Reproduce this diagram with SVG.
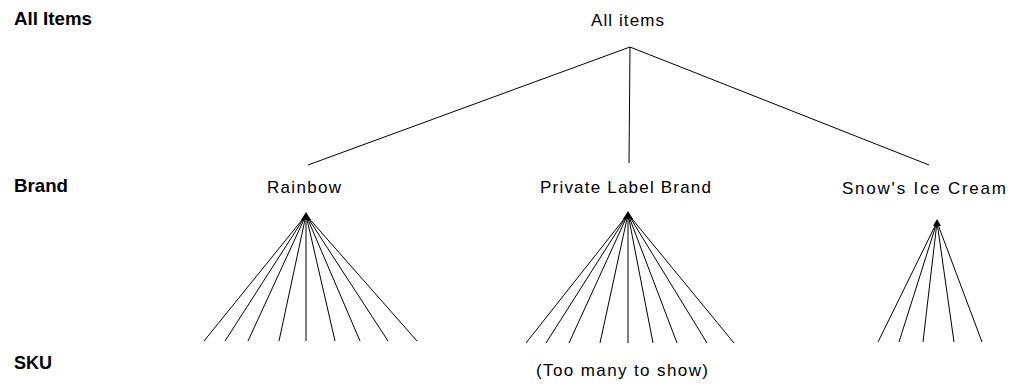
<svg xmlns="http://www.w3.org/2000/svg" width="1018" height="387" viewBox="0 0 1018 387">
<style>
.lvl{font-family:"Liberation Sans",Arial,sans-serif;font-weight:bold;font-size:19px;fill:#000}
.lbl{font-family:"Liberation Sans",Arial,sans-serif;font-size:17px;fill:#000;text-anchor:middle}
.c line{stroke:#000;stroke-width:1}
</style>
<rect width="1018" height="387" fill="#fff"/>
<g id="levels">
<text class="lvl" x="14" y="25" textLength="78" lengthAdjust="spacingAndGlyphs">All Items</text>
<text class="lvl" x="14" y="192" textLength="54" lengthAdjust="spacingAndGlyphs">Brand</text>
<text class="lvl" x="14" y="369" textLength="38" lengthAdjust="spacingAndGlyphs">SKU</text>
</g>
<g id="connectors" class="c">
<line x1="630" y1="47" x2="308" y2="165"/>
<line x1="630" y1="47" x2="629" y2="163"/>
<line x1="630" y1="47" x2="929" y2="165"/>
<g id="fan-rainbow">
<line x1="306" y1="215" x2="204" y2="341"/>
<line x1="306" y1="215" x2="225" y2="341"/>
<line x1="306" y1="215" x2="248" y2="341"/>
<line x1="306" y1="215" x2="279" y2="341"/>
<line x1="306" y1="215" x2="306" y2="341"/>
<line x1="306" y1="215" x2="335" y2="341"/>
<line x1="306" y1="215" x2="360" y2="341"/>
<line x1="306" y1="215" x2="388" y2="341"/>
<line x1="306" y1="215" x2="417" y2="341"/>
</g>
<g id="fan-private">
<line x1="628" y1="214" x2="526" y2="343"/>
<line x1="628" y1="214" x2="546" y2="343"/>
<line x1="628" y1="214" x2="569" y2="343"/>
<line x1="628" y1="214" x2="600" y2="343"/>
<line x1="628" y1="214" x2="628" y2="343"/>
<line x1="628" y1="214" x2="653" y2="343"/>
<line x1="628" y1="214" x2="677" y2="343"/>
<line x1="628" y1="214" x2="707" y2="343"/>
<line x1="628" y1="214" x2="734" y2="343"/>
</g>
<g id="fan-snow">
<line x1="937" y1="222" x2="878" y2="342"/>
<line x1="937" y1="222" x2="899" y2="342"/>
<line x1="937" y1="222" x2="923" y2="342"/>
<line x1="937" y1="222" x2="954" y2="342"/>
<line x1="937" y1="222" x2="982" y2="342"/>
</g>
<polygon points="306,212 301,220 311,220" fill="#000"/>
<polygon points="628,211 623,219 633,219" fill="#000"/>
<polygon points="937,219 933,226 941,226" fill="#000"/>
</g>
<g id="node-all"><text class="lbl" x="627.5" y="26" textLength="73" lengthAdjust="spacing">All items</text></g>
<g id="node-rainbow"><text class="lbl" x="304" y="193" textLength="74" lengthAdjust="spacing">Rainbow</text></g>
<g id="node-private"><text class="lbl" x="625.5" y="193" textLength="171" lengthAdjust="spacing">Private Label Brand</text></g>
<g id="node-snow"><text class="lbl" x="924" y="194" textLength="164" lengthAdjust="spacing">Snow's Ice Cream</text></g>
<g id="node-sku"><text class="lbl" x="622" y="376" textLength="172" lengthAdjust="spacing">(Too many to show)</text></g>
</svg>
